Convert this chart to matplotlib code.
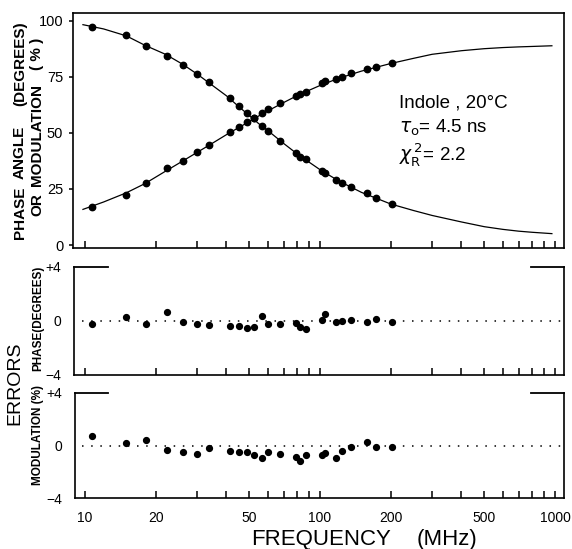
import matplotlib
matplotlib.use("Agg")
import matplotlib.pyplot as plt
from matplotlib.ticker import FixedLocator, NullFormatter, FixedFormatter

plt.rcParams['font.family'] = ['Liberation Sans', 'DejaVu Sans']

# ---------------- data ----------------
freq = [10.7, 15.0, 18.1, 22.4, 26.2, 29.9, 33.6, 41.4, 45.1, 48.9, 52.6, 56.4, 60.3,
        67.6, 79.3, 82.6, 86.8, 101.7, 105.5, 117.0, 124.6, 135.9, 158.5, 173.6, 201.5]
phase = [17.1, 22.3, 27.8, 34.2, 37.6, 41.3, 44.6, 50.2, 52.5, 54.7, 56.5, 59.0, 60.5,
         63.2, 66.5, 67.3, 68.3, 72.1, 73.1, 74.0, 75.0, 76.5, 78.3, 79.5, 81.0]
modulation = [97.3, 93.6, 88.7, 84.4, 80.2, 76.2, 72.8, 65.4, 61.9, 58.7, 56.5, 53.0, 50.9,
              46.5, 40.9, 39.1, 38.2, 33.1, 32.2, 29.0, 27.8, 26.0, 23.0, 21.1, 18.3]
phase_err = [-0.25, 0.32, -0.25, 0.67, -0.07, -0.25, -0.30, -0.37, -0.37, -0.54, -0.42, 0.37, -0.25,
             -0.25, -0.17, -0.42, -0.57, 0.07, 0.50, -0.05, 0.00, 0.07, -0.05, 0.17, -0.07]
mod_err = [0.71, 0.20, 0.43, -0.33, -0.51, -0.63, -0.18, -0.43, -0.53, -0.51, -0.71, -0.94, -0.51,
           -0.63, -0.84, -1.19, -0.76, -0.71, -0.56, -0.94, -0.43, -0.13, 0.25, -0.08, -0.08]

fit_freq = [9.8, 12, 15, 18, 22, 26, 30, 35, 40, 45, 50, 55, 60, 70, 80, 90, 100, 120, 150,
            200, 250, 300, 400, 500, 600, 700, 800, 970]
fit_phase = [15.9, 19.2, 23.3, 27.4, 32.9, 37.4, 41.3, 45.5, 49.2, 52.3, 55.0, 57.6, 59.8, 63.5,
             66.6, 69.0, 71.1, 74.3, 77.5, 80.9, 83.2, 85.0, 86.6, 87.5, 88.0, 88.3, 88.5, 88.8]
fit_mod = [98.2, 96.3, 93.2, 89.0, 85.0, 80.6, 76.2, 71.0, 66.5, 61.8, 57.7, 54.0, 51.0, 45.3,
           40.6, 36.9, 33.6, 28.6, 23.5, 18.3, 15.4, 13.2, 10.3, 8.2, 7.0, 6.2, 5.7, 5.1]

top_yticks = [0, 25, 50, 75, 100]
err_yticks = [-4, 0, 4]
err_ylabels = ["\u22124", "0", "+4"]
x_major = [10, 20, 50, 100, 200, 500, 1000]
x_major_labels = ["10", "20", "50", "100", "200", "500", "1000"]
x_minor = [30, 40, 60, 70, 80, 90, 300, 400, 600, 700, 800, 900]

# ---------------- layout ----------------
W, H = 572, 549
fig = plt.figure(figsize=(W / 100, H / 100), dpi=100)


def box(l, t, r, b):
    return [l / W, 1 - b / H, (r - l) / W, (b - t) / H]


def px2f(px):
    # 10 MHz sits at x=85 px, one decade = 235 px
    return 10 ** (1 + (px - 85) / 235.0)


panels = [(73, 13, 564, 248), (74, 267, 564, 375), (75, 393, 564, 498)]
axes = []
for (l, t, r, b) in panels:
    ax = fig.add_axes(box(l, t, r, b))
    ax.set_xscale('log')
    ax.set_xlim(px2f(l), px2f(r))
    ax.xaxis.set_major_locator(FixedLocator(x_major))
    ax.xaxis.set_minor_locator(FixedLocator(x_minor))
    ax.xaxis.set_minor_formatter(NullFormatter())
    ax.tick_params(axis='x', which='both', direction='in', length=5, width=1.1,
                   top=False, bottom=True)
    for s in ax.spines.values():
        s.set_linewidth(1.2)
    axes.append(ax)

ax1, ax2, ax3 = axes

# ---------------- top panel ----------------
ax1.plot(fit_freq, fit_phase, color='black', lw=0.9)
ax1.plot(fit_freq, fit_mod, color='black', lw=0.9)
ax1.plot(freq, phase, 'o', color='black', ms=4.6, mec='black')
ax1.plot(freq, modulation, 'o', color='black', ms=4.6, mec='black')
ax1.set_ylim(-1.3, 103.4)
ax1.set_yticks(top_yticks)
ax1.yaxis.set_major_formatter(FixedFormatter([str(v) for v in top_yticks]))
ax1.tick_params(axis='y', direction='out', length=3, width=1.1, labelsize=10.5, pad=4)
ax1.xaxis.set_major_formatter(NullFormatter())

ax1.text(0.663, 0.617, "Indole , 20\u00b0C", transform=ax1.transAxes,
         fontsize=13.5, ha='left', va='center')
ax1.text(0.663, 0.511, r"$\tau_{\mathrm{o}}$= 4.5 ns", transform=ax1.transAxes,
         fontsize=13.5, ha='left', va='center')
ax1.text(0.663, 0.396, r"$\chi_{\mathrm{R}}^{\,2}$= 2.2", transform=ax1.transAxes,
         fontsize=13.5, ha='left', va='center')

# ---------------- error panels ----------------
for ax, err in ((ax2, phase_err), (ax3, mod_err)):
    ax.set_ylim(-4, 4)
    ax.set_yticks(err_yticks)
    ax.yaxis.set_major_formatter(FixedFormatter(err_ylabels))
    ax.tick_params(axis='y', length=0, labelsize=10, pad=9)
    ax.spines['top'].set_visible(False)
    x0, x1 = ax.get_xlim()
    ax.plot([x0, px2f(108)], [4, 4], color='black', lw=1.3, clip_on=False)
    ax.plot([px2f(531), x1], [4, 4], color='black', lw=1.3, clip_on=False)
    ax.plot([px2f(82), x1], [0, 0], color='black', lw=1.1, ls=(0, (1, 5)))
    ax.plot(freq, err, 'o', color='black', ms=4.2)

ax2.xaxis.set_major_formatter(NullFormatter())
ax3.xaxis.set_major_formatter(FixedFormatter(x_major_labels))
ax3.tick_params(axis='x', labelsize=10, pad=9)

# ---------------- axis labels ----------------
def ftext(xp, yp, s, **kw):
    fig.text(xp / W, 1 - yp / H, s, ha='center', va='center', rotation=90, **kw)


ftext(20, 212.5, "PHASE", fontsize=11, fontweight='bold')
ftext(20, 152.5, "ANGLE", fontsize=11, fontweight='bold')
ftext(20, 64, "(DEGREES)", fontsize=11, fontweight='bold')
ftext(37, 205, "OR", fontsize=11, fontweight='bold')
ftext(37, 134.5, "MODULATION", fontsize=11, fontweight='bold')
ftext(37, 53.5, "( % )", fontsize=11, fontweight='bold')

ftext(38, 318.5, "PHASE(DEGREES)", fontsize=8.5, fontweight='bold')
ftext(38, 435, "MODULATION (%)", fontsize=8.5, fontweight='bold')
ftext(15, 383, "ERRORS", fontsize=14)

fig.text(321 / W, 1 - 539 / H, "FREQUENCY", fontsize=16, ha='center', va='center')
fig.text(447.5 / W, 1 - 539 / H, "(MHz)", fontsize=16, ha='center', va='center')

fig.savefig("out.png", dpi=100)
